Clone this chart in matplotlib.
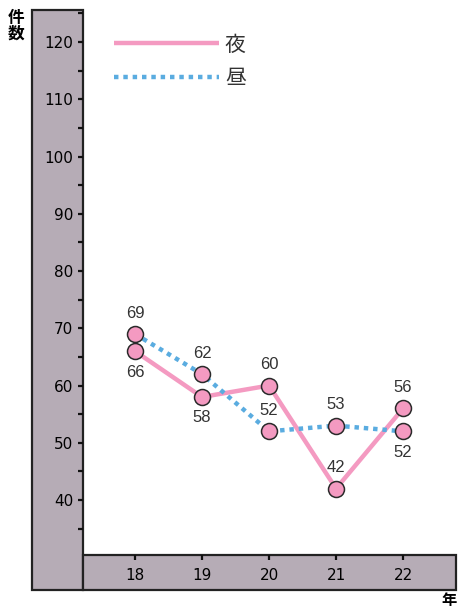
import matplotlib
matplotlib.use("Agg")
import matplotlib.pyplot as plt
from matplotlib.patches import Rectangle
from matplotlib.ticker import MultipleLocator

plt.rcParams['font.family'] = ['Noto Sans CJK JP', 'DejaVu Sans']

# data
years = [18, 19, 20, 21, 22]
night = [66, 58, 60, 42, 56]   # 夜
day = [69, 62, 52, 53, 52]     # 昼
night_lbl_pos = ['below', 'below', 'above', 'above', 'above']
day_lbl_pos = ['above', 'above', 'above', 'above', 'below']

pink = '#f49ac1'
blue = '#5aace0'
panel = '#b6acb6'

W, H = 458, 608
fig = plt.figure(figsize=(W / 100, H / 100), dpi=100)

def fx(px):
    return px / W

def fy(py):
    return 1 - py / H

# plot area
ax = fig.add_axes([fx(83), fy(555), fx(456) - fx(83), fy(10) - fy(555)])
ax.patch.set_visible(False)
for s in ax.spines.values():
    s.set_visible(False)

# gray panels that hold the tick labels
fig.patches.append(Rectangle((fx(32), fy(590)), fx(83) - fx(32), fy(10) - fy(590),
                             transform=fig.transFigure, facecolor=panel,
                             edgecolor='#222222', lw=1.6, zorder=-1))
fig.patches.append(Rectangle((fx(83), fy(590)), fx(456) - fx(83), fy(555) - fy(590),
                             transform=fig.transFigure, facecolor=panel,
                             edgecolor='#222222', lw=1.6, zorder=-1))

l1, = ax.plot(years, night, color=pink, lw=3.2, solid_capstyle='butt', zorder=2)
l2, = ax.plot(years, day, color=blue, lw=3.2, linestyle=(0, (1, 1.1)), zorder=2)
ax.plot(years, day, 'o', ms=11.5, mfc=pink, mec='#2a2a2a', mew=1.1, zorder=3)
ax.plot(years, night, 'o', ms=11.5, mfc=pink, mec='#2a2a2a', mew=1.1, zorder=3)

for vals, pos in ((night, night_lbl_pos), (day, day_lbl_pos)):
    for x, v, p in zip(years, vals, pos):
        off = 15 if p == 'above' else -15
        ax.annotate(str(v), (x, v), xytext=(0, off), textcoords='offset points',
                    ha='center', va='center', fontsize=12, color='#333333',
                    family=['Liberation Sans'])

ax.set_xlim(17.224, 22.79)
ax.set_ylim(30.4, 125.6)
ax.set_xticks(years)
ax.yaxis.set_major_locator(MultipleLocator(10))
ax.yaxis.set_minor_locator(MultipleLocator(5))
ax.set_yticks(range(40, 121, 10))
ax.tick_params(axis='y', which='both', direction='out', length=3.5, width=1.6,
               pad=3.5, labelsize=11, color='#111111')
ax.tick_params(axis='x', direction='out', length=3.5, width=1.6, pad=6,
               labelsize=11, color='#111111')
for t in ax.get_xticklabels() + ax.get_yticklabels():
    t.set_family(['DejaVu Sans'])

leg = ax.legend([l1, l2], ['夜', '昼'], loc='upper left',
                bbox_to_anchor=(0.062, 0.972), frameon=False, fontsize=15,
                handlelength=5.0, handletextpad=0.3, labelspacing=0.55,
                borderaxespad=0)
for t in leg.get_texts():
    t.set_color('#333333')

fig.text(fx(16), fy(26), '件\n数', ha='center', va='center', fontsize=12,
         fontweight='bold', linespacing=0.85)
fig.text(fx(449), fy(600), '年', ha='center', va='center', fontsize=11,
         fontweight='bold')

fig.savefig('out.png', dpi=100)
